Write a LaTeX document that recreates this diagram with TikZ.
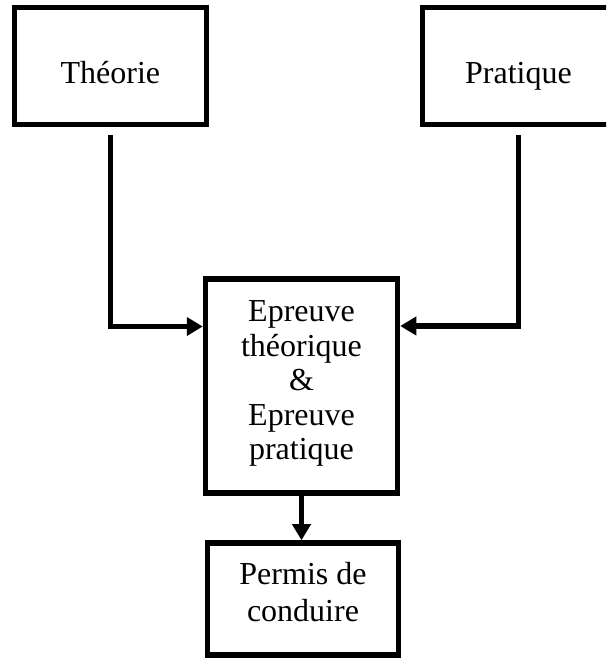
\documentclass[tikz,border=0pt]{standalone}
\usepackage{fontspec}
\setmainfont{Liberation Serif}
\usetikzlibrary{arrows.meta}
\begin{document}
\begin{tikzpicture}[x=1pt,y=-1pt,
  box/.style={draw=black, line width=5.5pt, rectangle, inner sep=0pt, outer sep=2.75pt,
    minimum width=192pt, align=center, font=\fontsize{32pt}{34.6pt}\selectfont},
  onebox/.style={box, minimum height=117.25pt, text height=34pt, text depth=0pt},
  conn/.style={draw=black, line width=5.5pt, line join=miter,
    -{Triangle[length=16pt,width=18pt]}},
]
\useasboundingbox (0,0) rectangle (606,658);
\clip (0,0) rectangle (606,658);
\fill[white] (0,0) rectangle (606,658);

\node[onebox] (theorie) at (110.4,66.1) {Théorie};
\node[onebox] (pratique) at (518.5,66.1) {Pratique};
\node[box, minimum height=214pt, text depth=11.6pt] (epreuve) at (301.5,386)
  {Epreuve\\théorique\\\&\\Epreuve\\pratique};
\node[box, minimum width=191pt, minimum height=112.25pt, text depth=15pt,
  font=\fontsize{32pt}{37pt}\selectfont] (permis) at (303,599.1)
  {Permis de\\conduire};

\draw[conn, shorten <=7.75pt] (theorie.south) |- ([yshift=59.5pt]epreuve.west);
\draw[conn, shorten <=7.75pt] (pratique.south) |- ([yshift=60pt]epreuve.east);
\draw[conn] (epreuve.south) -- (epreuve.south |- permis.north);
\end{tikzpicture}
\end{document}
